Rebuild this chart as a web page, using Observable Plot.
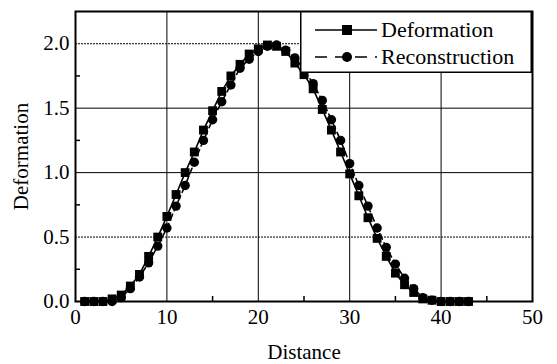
<!DOCTYPE html>
<html>
<head>
<meta charset="utf-8">
<script src="https://cdn.jsdelivr.net/npm/d3@7"></script>
<script src="https://cdn.jsdelivr.net/npm/@observablehq/plot@0.6"></script>
<style>
  html, body { margin: 0; padding: 0; background: white; }
  #wrap { position: relative; width: 557px; height: 364px; }
  #legend { position: absolute; left: 300px; top: 11px; }
</style>
</head>
<body>
<div id="wrap"></div>
<script>
// ---- data ----
const distance = [1,2,3,4,5,6,7,8,9,10,11,12,13,14,15,16,17,18,19,20,21,22,23,24,25,26,27,28,29,30,31,32,33,34,35,36,37,38,39,40,41,42,43];
const deformation = [0,0,0,0.02,0.05,0.12,0.21,0.35,0.50,0.66,0.83,1.00,1.16,1.33,1.48,1.63,1.75,1.84,1.92,1.96,1.99,1.98,1.94,1.85,1.76,1.65,1.49,1.33,1.16,0.99,0.82,0.65,0.49,0.35,0.22,0.13,0.07,0.02,0.01,0,0,0,0];
const reconstruction = [0,0,0,0,0.03,0.10,0.19,0.30,0.43,0.57,0.74,0.90,1.08,1.25,1.41,1.55,1.68,1.81,1.88,1.94,1.98,1.99,1.95,1.89,1.80,1.69,1.56,1.41,1.25,1.07,0.90,0.74,0.57,0.42,0.29,0.18,0.10,0.03,0.01,0,0,0,0];
const seriesNames = ["Deformation", "Reconstruction"];
const xTicks = [0,10,20,30,40,50];
const xGrid = [10,20,30,40];
const xMinor = [5,15,25,35,45];
const yTicks = [0,0.5,1.0,1.5,2.0];
const yGridSolid = [1.0,1.5];
const yGridDotted = [0.5,2.0];
const yMinor = [0.25,0.75,1.25,1.75];

const defData = distance.map((d,i) => ({x: d, y: deformation[i]}));
const recData = distance.map((d,i) => ({x: d, y: reconstruction[i]}));

const W = 557, H = 364, mL = 75, mR = 25, mT = 11, mB = 63;
const innerW = W - mL - mR, innerH = H - mT - mB;
const font = "'Liberation Serif', 'Times New Roman', serif";

const chart = Plot.plot({
  width: W, height: H,
  marginLeft: mL, marginRight: mR, marginTop: mT, marginBottom: mB,
  style: {fontFamily: font, fontSize: "21px", color: "black", background: "white"},
  x: {domain: [0, 50]},
  y: {domain: [0, 2.25]},
  marks: [
    Plot.ruleX(xGrid, {stroke: "black", strokeWidth: 1}),
    Plot.ruleY(yGridSolid, {stroke: "black", strokeWidth: 1}),
    Plot.ruleY(yGridDotted, {stroke: "black", strokeWidth: 1, strokeDasharray: "2,1"}),
    Plot.tickX(xMinor, {x: d => d, stroke: "black", strokeWidth: 1.5, insetTop: innerH - 5}),
    Plot.tickY(yMinor, {y: d => d, stroke: "black", strokeWidth: 1.5, insetRight: innerW - 5}),
    Plot.axisX(xTicks, {tickSize: 0, tickPadding: 8, fontSize: 21, label: "Distance", labelAnchor: "center", labelOffset: 57, labelArrow: "none"}),
    Plot.axisY(yTicks, {tickSize: 0, tickPadding: 6, fontSize: 21, tickFormat: d3.format(".1f"), label: "Deformation", labelAnchor: "center", labelOffset: 62, labelArrow: "none"}),
    Plot.line(defData, {x: "x", y: "y", stroke: "black", strokeWidth: 1.6}),
    Plot.line(recData, {x: "x", y: "y", stroke: "black", strokeWidth: 1.6, strokeDasharray: "6,4"}),
    Plot.dot(defData, {x: "x", y: "y", symbol: "square", r: 5, fill: "black"}),
    Plot.dot(recData, {x: "x", y: "y", symbol: "circle", r: 4.7, fill: "black"}),
    Plot.frame({stroke: "black", strokeWidth: 2})
  ]
});
document.getElementById("wrap").appendChild(chart);

// ---- legend (overlay box in upper right of the plot frame) ----
const lw = W - mR - 300, lh = 62;
const leg = d3.create("svg").attr("id", "legend").attr("width", lw + 1).attr("height", lh + 1)
  .style("font-family", font);
leg.append("rect").attr("x", 0.75).attr("y", 0.75).attr("width", lw - 1.5).attr("height", lh - 1.5)
  .attr("fill", "white").attr("stroke", "black").attr("stroke-width", 1.5);
const rows = [
  {name: seriesNames[0], y: 19, dash: null, sym: "square"},
  {name: seriesNames[1], y: 46, dash: "12,8", sym: "circle"}
];
rows.forEach(r => {
  leg.append("line").attr("x1", 15).attr("x2", 77).attr("y1", r.y).attr("y2", r.y)
    .attr("stroke", "black").attr("stroke-width", 1.6).attr("stroke-dasharray", r.dash);
  if (r.sym === "square") {
    leg.append("rect").attr("x", 47 - 5).attr("y", r.y - 5).attr("width", 10).attr("height", 10).attr("fill", "black");
  } else {
    leg.append("circle").attr("cx", 47).attr("cy", r.y).attr("r", 5).attr("fill", "black");
  }
  leg.append("text").attr("x", 81).attr("y", r.y + 7).attr("font-size", 22).attr("fill", "black").text(r.name);
});
document.getElementById("wrap").appendChild(leg.node());
</script>
</body>
</html>
